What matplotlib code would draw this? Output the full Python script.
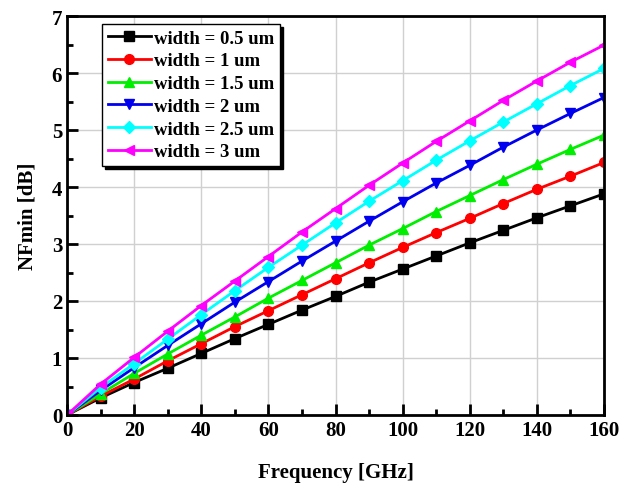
import matplotlib
matplotlib.use('Agg')
from matplotlib import pyplot as plt
from matplotlib.ticker import MultipleLocator

freq = [0, 10, 20, 30, 40, 50, 60, 70, 80, 90, 100, 110, 120, 130, 140, 150, 160]

nf_05 = [0, 0.30, 0.57, 0.82, 1.08, 1.34, 1.59, 1.84, 2.08, 2.33, 2.56, 2.79, 3.02, 3.24, 3.46, 3.67, 3.88]
nf_10 = [0, 0.33, 0.63, 0.95, 1.25, 1.55, 1.83, 2.11, 2.39, 2.67, 2.94, 3.20, 3.45, 3.71, 3.96, 4.19, 4.43]
nf_15 = [0, 0.37, 0.73, 1.07, 1.40, 1.72, 2.05, 2.36, 2.67, 2.98, 3.27, 3.57, 3.85, 4.13, 4.40, 4.66, 4.91]
nf_20 = [0, 0.43, 0.83, 1.22, 1.60, 1.98, 2.34, 2.70, 3.05, 3.40, 3.74, 4.07, 4.38, 4.70, 5.00, 5.29, 5.57]
nf_25 = [0, 0.48, 0.90, 1.33, 1.76, 2.18, 2.59, 2.98, 3.37, 3.75, 4.11, 4.47, 4.81, 5.14, 5.46, 5.78, 6.08]
nf_30 = [0, 0.54, 1.01, 1.47, 1.92, 2.35, 2.78, 3.21, 3.62, 4.03, 4.42, 4.80, 5.16, 5.52, 5.86, 6.19, 6.49]

labels = ['width = 0.5 um', 'width = 1 um', 'width = 1.5 um',
          'width = 2 um', 'width = 2.5 um', 'width = 3 um']
colors = ['#000000', '#ff0000', '#00ee00', '#0000ee', '#00ffff', '#ff00ff']
markers = ['s', 'o', '^', 'v', 'D', '<']

plt.rcParams['font.family'] = ['Liberation Serif', 'DejaVu Serif']
plt.rcParams['font.weight'] = 'bold'

fig = plt.figure(figsize=(6.32, 4.85), dpi=100)
ax = fig.add_axes([67 / 632, 1 - 416 / 485, (604 - 67) / 632, (416 - 17) / 485])

series = [nf_05, nf_10, nf_15, nf_20, nf_25, nf_30]
for vals, lab, col, mk in zip(series, labels, colors, markers):
    ms = 6 if mk == 'D' else 7
    ax.plot(freq, vals, color=col, marker=mk, markersize=ms, linewidth=2, label=lab)

ax.set_xlim(0, 160)
ax.set_ylim(0, 7)
ax.xaxis.set_major_locator(MultipleLocator(20))
ax.xaxis.set_minor_locator(MultipleLocator(10))
ax.yaxis.set_major_locator(MultipleLocator(1))
ax.yaxis.set_minor_locator(MultipleLocator(0.5))
ax.tick_params(which='both', direction='in', top=False, right=False, width=2,
               labelsize=15)
ax.tick_params(which='major', length=8)
ax.tick_params(which='minor', length=4)
ax.grid(True, which='major', color='#d0d0d0', linewidth=1)
ax.set_axisbelow(True)
for sp in ax.spines.values():
    sp.set_linewidth(2)

ax.set_xlabel('Frequency [GHz]', fontsize=15, fontweight='bold', labelpad=16)
ax.set_ylabel('NFmin [dB]', fontsize=15, fontweight='bold', labelpad=10)

leg = ax.legend(loc='upper left', bbox_to_anchor=(0.065, 0.98), fontsize=13.5,
                frameon=True, fancybox=False, shadow={'color': 'black', 'alpha': 1},
                edgecolor='black', handlelength=2.3, borderpad=0.3,
                labelspacing=0.3, handletextpad=0.2, borderaxespad=0)
leg.get_frame().set_linewidth(1)

fig.savefig('out.png', dpi=100)
